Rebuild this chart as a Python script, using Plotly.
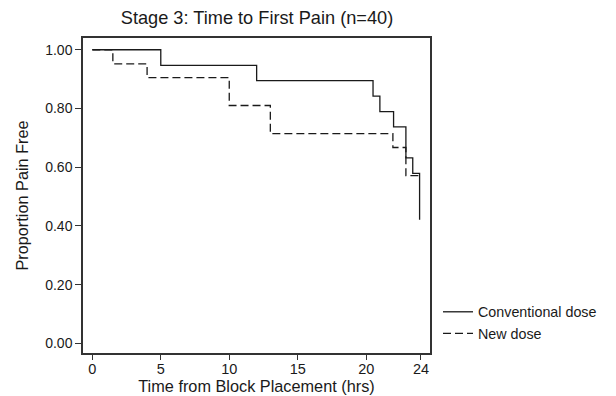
import plotly.graph_objects as go

# Conventional dose (solid)
conv_time = [0, 5.0, 12.0, 20.5, 21.0, 22.0, 22.9, 23.4, 23.9]
conv_surv = [1.0, 0.947, 0.895, 0.842, 0.789, 0.737, 0.632, 0.579, 0.421]

# New dose (dashed)
new_time = [0, 1.5, 4.0, 10.0, 13.0, 21.95, 22.9, 23.9]
new_surv = [1.0, 0.952, 0.905, 0.810, 0.714, 0.667, 0.571, 0.571]

x_ticks = [0, 5, 10, 15, 20, 24]
y_ticks = [0.0, 0.2, 0.4, 0.6, 0.8, 1.0]

FONT = "Liberation Sans, Arial, Helvetica, sans-serif"
INK = "#1a1a1a"

fig = go.Figure()
fig.add_trace(go.Scatter(
    x=conv_time, y=conv_surv, mode="lines", line_shape="hv",
    name="Conventional dose", line=dict(color=INK, width=1.3)))
fig.add_trace(go.Scatter(
    x=new_time, y=new_surv, mode="lines", line_shape="hv",
    name="New dose", line=dict(color=INK, width=1.3, dash="8px,4px")))

fig.update_layout(
    width=616, height=396,
    margin=dict(l=83, r=186, t=38, b=43, autoexpand=False),
    paper_bgcolor="white", plot_bgcolor="white",
    font=dict(family=FONT, color=INK),
    title=dict(text="Stage 3: Time to First Pain (n=40)", x=(257 / 616), xanchor="center",
               y=1 - 18 / 396, yanchor="middle", font=dict(size=18.2, color=INK)),
    showlegend=True,
    legend=dict(xref="container", yref="container",
                x=438 / 616, xanchor="left", y=1 - 296 / 396, yanchor="top",
                font=dict(size=14.3, color=INK), bgcolor="rgba(0,0,0,0)",
                tracegroupgap=0),
    xaxis=dict(range=[-0.68, 24.66], tickvals=x_ticks, ticktext=[str(v) for v in x_ticks],
               showgrid=False, zeroline=False, showline=True, mirror=True, automargin=False,
               linecolor="#333", linewidth=1.5, ticks="outside", ticklen=5,
               tickcolor="#333", tickfont=dict(size=14.5, color=INK),
               ticklabelstandoff=-3,
               title=dict(text="Time from Block Placement (hrs)", font=dict(size=16.3, color=INK),
                          standoff=4)),
    yaxis=dict(range=[-0.033, 1.04], tickvals=y_ticks,
               ticktext=["%.2f" % v for v in y_ticks],
               showgrid=False, zeroline=False, showline=True, mirror=True, automargin=False,
               linecolor="#333", linewidth=1.5, ticks="outside", ticklen=6,
               tickcolor="#333", tickfont=dict(size=14, color=INK),
               title=dict(text="Proportion Pain Free", font=dict(size=16.3, color=INK),
                          standoff=12)),
)

fig.write_html("out.html", config={"displayModeBar": False},
               post_script="document.body.style.margin='0';document.body.style.overflow='hidden';")
